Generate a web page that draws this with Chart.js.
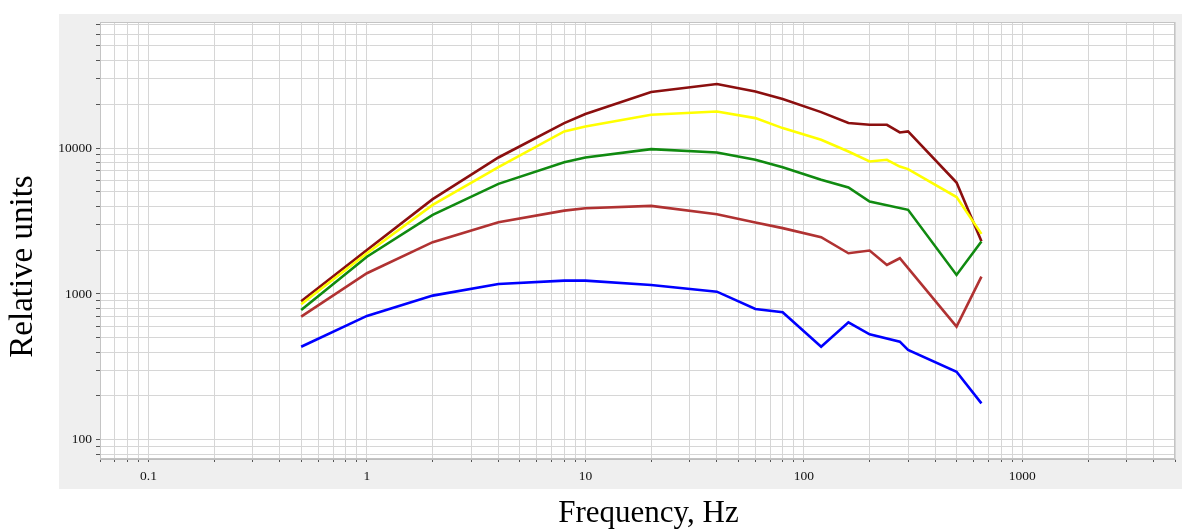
<!DOCTYPE html>
<html>
<head>
<meta charset="utf-8">
<script src="https://cdn.jsdelivr.net/npm/chart.js@4"></script>
<style>
  body { margin: 0; background: #fff; }
</style>
</head>
<body>
<canvas id="myChart" width="1182" height="531"></canvas>
<script>
// frequencies (Hz) shared by all curves
const freq = [0.5, 1, 2, 4, 8, 10, 20, 40, 60, 80, 120, 160, 200, 240, 275, 300, 500, 650];

// curves, top to bottom (null = no point there)
const maroon = [890, 2000, 4460, 8610, 14820, 17080, 24170, 27420, 24400, 21640, 17620, 14820, 14430, 14430, 12780, 12990, 5800, 2300];
const yellow = [850, 1900, 4080, 7390, 12980, 14040, 16890, 17800, 16030, 13690, 11380, 9460, 8080, 8300, 7460, 7170, 4610, 2580];
const green  = [777, 1800, 3480, 5680, 8000, 8610, 9820, 9310, 8300, 7390, 6050, 5360, 4300, null, null, 3770, 1350, 2285];
const brown  = [699, 1387, 2263, 3103, 3725, 3870, 4015, 3520, 3085, 2825, 2450, 1900, 1983, 1580, 1757, null, 597, 1314];
const blue   = [435, 707, 974, 1171, 1234, 1234, 1152, 1037, 789, 749, 435, 640, 529, null, 471, 413, 293, 178];

// labelled ticks
const xLabels = [0.1, 1, 10, 100, 1000];
const yLabels = [100, 1000, 10000];
const xTitle = 'Frequency, Hz';
const yTitle = 'Relative units';

// minor tick positions (1..9 x 10^n inside the range)
function logTicks(from, to) {
  let t = [];
  for (let e = -3; e <= 5; e++) {
    for (let k = 1; k <= 9; k++) {
      const v = +(k * Math.pow(10, e)).toPrecision(6);
      if (v >= from && v <= to) t.push(v);
    }
  }
  return t;
}
const xTicks = logTicks(0.06, 5000);
const yTicks = logTicks(80, 70000);

function pts(arr) {
  return freq.map((f, i) => ({x: f, y: arr[i]}));
}

const serif = "'Liberation Serif', 'Times New Roman', serif";

// gray panel + white plot area + frame + axis titles
const panel = {
  id: 'panel',
  beforeDraw(c) {
    const ctx = c.ctx, a = c.chartArea;
    ctx.save();
    ctx.fillStyle = '#efefef';
    ctx.fillRect(a.left - 41, a.top - 8, c.width - (a.left - 41), a.bottom + 30 - (a.top - 8));
    ctx.fillStyle = '#fff';
    ctx.fillRect(a.left, a.top, a.right - a.left, a.bottom - a.top);
    ctx.restore();
  },
  afterDatasetsDraw(c) {
    const ctx = c.ctx, a = c.chartArea;
    ctx.save();
    ctx.strokeStyle = '#c4c4c4';
    ctx.lineWidth = 1;
    ctx.strokeRect(a.left + 0.5, a.top + 0.5, a.right - a.left - 1, a.bottom - a.top - 1);
    ctx.restore();
  },
  afterDraw(c) {
    const ctx = c.ctx, a = c.chartArea;
    ctx.save();
    ctx.fillStyle = '#000';
    ctx.textAlign = 'center';
    ctx.textBaseline = 'middle';
    ctx.font = '31px ' + serif;
    ctx.fillText(xTitle, (a.left + a.right) / 2 + 11, c.height - 17);
    ctx.translate(23, (a.top + a.bottom) / 2 + 26);
    ctx.rotate(-Math.PI / 2);
    ctx.font = '33px ' + serif;
    ctx.fillText(yTitle, 0, 0);
    ctx.restore();
  }
};

function ds(data, color) {
  return {
    data: pts(data),
    borderColor: color,
    borderWidth: 2.6,
    pointRadius: 0,
    tension: 0,
    spanGaps: true,
    fill: false
  };
}

new Chart(document.getElementById('myChart'), {
  type: 'line',
  data: {
    datasets: [
      ds(blue, '#0000ff'),
      ds(brown, '#b03232'),
      ds(green, '#108a10'),
      ds(yellow, '#ffff00'),
      ds(maroon, '#8b0f0f')
    ]
  },
  plugins: [panel],
  options: {
    responsive: false,
    animation: false,
    layout: { padding: { top: 22, right: 7, left: 0, bottom: 0 } },
    plugins: {
      legend: { display: false },
      tooltip: { enabled: false }
    },
    scales: {
      x: {
        type: 'logarithmic',
        min: 0.06,
        max: 5000,
        afterBuildTicks: s => { s.ticks = xTicks.map(v => ({value: v})); },
        afterFit: s => { s.height = 72; },
        grid: { color: '#d6d6d6', tickColor: '#555', tickLength: 3 },
        border: { color: '#bdbdbd' },
        ticks: {
          autoSkip: false,
          maxRotation: 0,
          padding: 6,
          color: '#111',
          font: { family: serif, size: 13.5 },
          callback: v => xLabels.some(l => Math.abs(l - v) < l * 1e-6) ? String(v) : ''
        }
      },
      y: {
        type: 'logarithmic',
        min: 74,
        max: 73000,
        afterBuildTicks: s => { s.ticks = yTicks.map(v => ({value: v})); },
        afterFit: s => { s.width = 100; },
        grid: { color: '#d6d6d6', tickColor: '#555', tickLength: 4 },
        border: { color: '#bdbdbd' },
        ticks: {
          autoSkip: false,
          padding: 4,
          color: '#111',
          font: { family: serif, size: 13.5 },
          callback: v => yLabels.some(l => Math.abs(l - v) < l * 1e-6) ? String(v) : ''
        }
      }
    }
  }
});
</script>
</body>
</html>
